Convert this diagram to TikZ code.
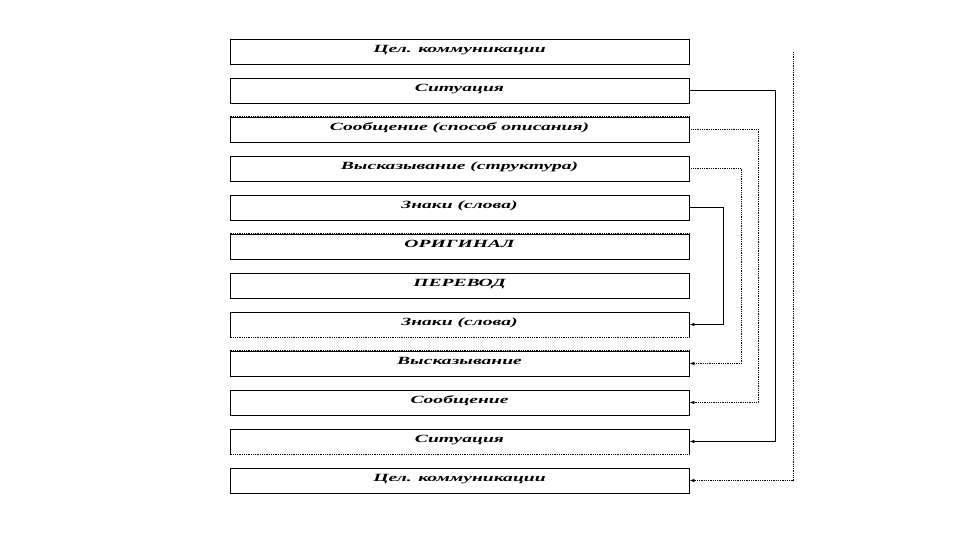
\documentclass[tikz,border=0pt]{standalone}
\usepackage{fontspec}
\setmainfont{Liberation Serif}
\usetikzlibrary{arrows.meta, positioning}

\newcommand{\wide}[1]{\scalebox{1.78}[1]{#1}}

\begin{document}
\begin{tikzpicture}[x=1pt, y=-1pt]
    % Setup the styles for the levels and the links
        \tikzset{level box/.style={draw,
                                   line width=0.8pt,
                                   minimum width=459pt,
                                   minimum height=25pt,
                                   inner sep=0pt,
                                   text height=9pt,
                                   text depth=7pt,
                                   font=\bfseries\itshape\fontsize{11}{12}\selectfont},
                 link/.style={line width=0.8pt,
                              -{Latex[length=5pt, width=3.5pt]}},
                 dot link/.style={link, densely dotted},
                 dot edge/.style={line width=0.8pt, densely dotted}}
        \useasboundingbox (0,0) rectangle (960,540);
        % Draw the levels
        \node[level box] at (459.5, 51.5) (goal1) {\wide{Цел. коммуникации}};
        \node[level box] at (459.5, 90.5) (sit1) {\wide{Ситуация}};
        \node[level box] at (459.5, 129.5) (msg1) {\wide{Сообщение (способ описания)}};
        \node[level box] at (459.5, 168.5) (utt1) {\wide{Высказывание (структура)}};
        \node[level box] at (459.5, 207.5) (sign1) {\wide{Знаки (слова)}};
        \node[level box] at (459.5, 246.5) (orig) {\wide{ОРИГИНАЛ}};
        \node[level box] at (459.5, 285.5) (trans) {\wide{ПЕРЕВОД}};
        \node[level box] at (459.5, 324.5) (sign2) {\wide{Знаки (слова)}};
        \node[level box] at (459.5, 363.5) (utt2) {\wide{Высказывание}};
        \node[level box] at (459.5, 402.5) (msg2) {\wide{Сообщение}};
        \node[level box] at (459.5, 441.5) (sit2) {\wide{Ситуация}};
        \node[level box] at (459.5, 480.5) (goal2) {\wide{Цел. коммуникации}};
        % Dotted edges of some levels
        \draw[white, line width=1.2pt]
        (msg1.north west) -- (msg1.north east)
        (orig.north west) -- (orig.north east)
        (sign2.south west) -- (sign2.south east)
        (utt2.north west) -- (utt2.north east)
        (sit2.south west) -- (sit2.south east);
        \draw[dot edge]
        (msg1.north west) -- (msg1.north east)
        (orig.north west) -- (orig.north east)
        (sign2.south west) -- (sign2.south east)
        (utt2.north west) -- (utt2.north east)
        (sit2.south west) -- (sit2.south east);
        % Connect the levels with links
        \coordinate (goal top) at (793, 52);
        \draw[link] (sit1.east) -- ([xshift=86pt]sit1.east) |- (sit2.east);
        \draw[dot link] (msg1.east) -- ([xshift=69pt]msg1.east) |- (msg2.east);
        \draw[dot link] (utt1.east) -- ([xshift=52pt]utt1.east) |- (utt2.east);
        \draw[link] (sign1.east) -- ([xshift=34pt]sign1.east) |- (sign2.east);
        \draw[dot link] (goal top) |- (goal2.east);
\end{tikzpicture}
\end{document}
